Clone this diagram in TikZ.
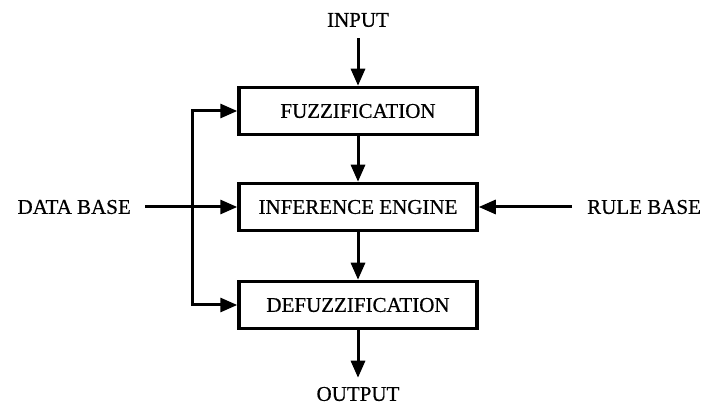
\documentclass[tikz,border=0pt]{standalone}
\usepackage{fontspec}
\setmainfont{Liberation Serif}[FakeBold=0.6]
\usetikzlibrary{arrows.meta}

\begin{document}
\begin{tikzpicture}[x=1pt, y=-1pt,
    block/.style={draw, line width=3.5pt, minimum width=238pt, minimum height=47pt,
      inner sep=0pt, font=\fontsize{21}{21}\selectfont},
    term/.style={inner sep=0pt, font=\fontsize{21}{21}\selectfont},
    flow/.style={-{Triangle[length=17pt,width=14pt]}, line width=3pt},
    twoway/.style={{Triangle[length=17pt,width=14pt]}-{Triangle[length=17pt,width=14pt]},
      line width=3pt},
  ]

  \useasboundingbox (0,0) rectangle (702,406);

  % --- the three stages ---
  \node[block] (fuzz)   at (358,111) {FUZZIFICATION};
  \node[block] (infer)  at (358,207) {INFERENCE ENGINE};
  \node[block] (defuzz) at (358,305) {DEFUZZIFICATION};

  % --- outside terms ---
  \node[term] (input)    at (358,20)  {INPUT};
  \node[term] (output)   at (358,394) {OUTPUT};
  \node[term, anchor=east] (database) at (131,207) {DATA BASE};
  \node[term, anchor=west] (rulebase) at (587,207) {RULE BASE};

  % Left bus feeding the first and last stage
  \coordinate (bustop) at (192,111);
  \coordinate (busbot) at (192,305);

  % Signal path
  \draw[flow, shorten <=11pt] (input) -- (fuzz);
  \draw[flow] (fuzz) -- (infer);
  \draw[flow] (infer) -- (defuzz);
  \draw[flow, shorten >=9pt] (defuzz) -- (output);

  % Side inputs
  \draw[flow, shorten <=14pt] (database) -- (infer);
  \draw[flow, shorten <=15pt] (rulebase) -- (infer);
  \draw[twoway, line join=miter] (fuzz.west) -- (bustop) -- (busbot) -- (defuzz.west);

\end{tikzpicture}
\end{document}
